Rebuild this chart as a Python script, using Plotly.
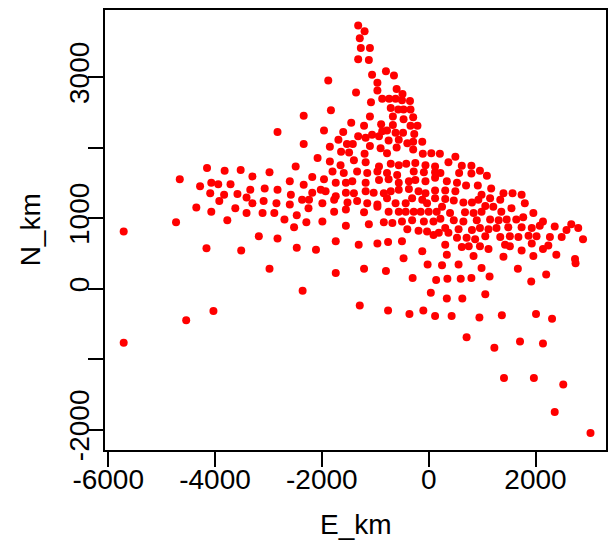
import plotly.graph_objects as go

E_km = [-2340,-2830,-2340,-4150,-4660,-3820,-3520,-3300,-2980,-2490,-2600,-2340,-4280,-4070,-3940,-3710,-4090,-3830,-3580,-3340,
-3070,-2830,-2580,-3410,-3920,-3300,-3090,-2850,-2600,-2370,-2250,-4350,-4070,-3620,-3410,-3110,-2890,-2470,-2700,-2290,
-2520,-3770,-4730,-5710,-3180,-2830,-4160,-3510,-2470,-2980,-2360,-4030,-4540,-5710,-1320,-1200,-1290,-1270,-1100,-1320,
-1120,-1880,-800,-1060,-650,-960,-1360,-960,-600,-490,-870,-740,-620,-500,-350,-1080,-710,-570,-470,-340,
-1830,-670,-1100,-290,-470,-890,-670,-1450,-1210,-340,-210,-1960,-1600,-780,-620,-870,-270,-480,-1690,-1320,
-1180,-1060,-930,-750,-560,-400,-290,-120,-1850,-1530,-1420,-1100,-900,-600,-290,-1640,-1490,-1200,-780,-110,
50,210,500,-2080,-1850,-1650,-1400,-1180,-930,-710,-560,-420,-250,-60,120,-1800,-1590,-1340,-1150,-960,
-780,-590,-280,-90,120,-2180,-1960,-1740,-1550,-1430,-1180,-930,-750,-560,-370,-250,-60,120,-2180,-2020,
-1930,-1740,-1550,-1400,-1180,-1030,-840,-710,-560,-370,-190,-60,120,-2240,-1990,-1770,-1520,-1340,-1150,-960,
-780,-620,-430,-310,-120,-30,120,-1770,-1550,-1210,-960,-750,-560,-430,-280,-150,0,150,-1990,-1550,
-1120,-840,-680,-500,-310,-90,90,-400,-190,-30,90,-1740,-1310,-960,-760,-500,370,620,800,960,
220,570,800,1090,340,530,700,920,1170,310,500,1400,1570,1740,990,1150,310,470,650,810,
930,1340,1800,250,1060,1210,1550,400,680,840,990,1360,1960,1770,220,470,650,900,1150,1310,
1460,1640,2140,310,560,810,960,1120,1270,1490,1740,1930,2080,2360,2580,2670,2800,190,370,530,
710,870,1060,1340,1520,1680,1870,2020,2270,2490,2890,310,620,750,960,1120,1430,1520,1740,1930,
2140,2240,340,840,1400,1960,2390,2740,-2110,-120,-470,-1740,-1210,-800,-20,250,560,990,1670,2750,
-300,140,350,600,800,1140,2200,1920,40,340,630,1060,-1290,-760,-360,-100,120,430,950,1370,
2010,2310,710,1230,1710,2140,1410,1970,2520,2360,3030]

N_km = [2450,2220,2050,1710,1550,1670,1680,1590,1650,1730,1520,1470,1450,1500,1480,1480,1350,1330,1340,1400,
1420,1400,1330,1290,1240,1210,1240,1210,1190,1260,1140,1150,1090,1140,1070,1070,1070,1040,980,940,
870,970,940,810,740,710,570,540,580,280,-30,-320,-450,-770,3730,3650,3550,3410,3410,3250,
3240,2950,3080,3030,3020,2920,2780,2810,2830,2760,2690,2690,2690,2670,2660,2640,2560,2540,2540,2540,
2530,2440,2440,2430,2400,2330,2320,2350,2310,2310,2310,2240,2220,2240,2210,2230,2190,2210,2110,2160,
2140,2180,2160,2100,2110,2060,2080,2080,2010,2050,2050,2020,1990,2000,1970,1940,1930,1910,1920,1910,
1920,1910,1870,1850,1800,1750,1820,1790,1730,1770,1750,1770,1780,1750,1730,1660,1640,1660,1640,1660,
1640,1610,1660,1650,1650,1580,1550,1500,1500,1520,1500,1540,1550,1500,1520,1540,1520,1570,1360,1400,
1380,1310,1360,1350,1380,1360,1350,1380,1400,1410,1380,1350,1390,1260,1210,1260,1220,1240,1210,1190,
1280,1210,1210,1280,1260,1210,1280,1090,1120,1080,1160,1090,1090,1090,1090,1090,1090,1090,950,890,
910,940,930,950,970,950,950,840,820,810,760,670,620,640,660,670,1790,1740,1740,1670,
1640,1640,1630,1600,1520,1500,1460,1460,1420,1390,1380,1350,1350,1330,1330,1280,1270,1250,1220,1220,
1260,1260,1210,1160,1170,1160,1140,1070,1080,1070,1090,1090,1070,1010,990,970,950,970,980,970,
980,980,950,860,840,830,860,840,860,870,870,860,890,880,830,910,860,790,790,720,
720,700,740,730,740,730,750,740,730,730,700,620,590,600,600,560,620,600,540,640,
560,610,480,460,450,460,480,420,550,530,430,220,280,250,340,330,340,290,280,360,
150,120,140,140,150,170,200,100,-60,-140,-140,-80,-240,-310,-360,-310,-390,-390,-410,-380,
-360,-430,-690,-840,-750,-780,-1270,-1270,-1360,-1750,-2050]

x_ticks = [-6000, -4000, -2000, 0, 2000]
y_ticks = [-2000, -1000, 0, 1000, 2000, 3000]
y_ticktext = ["-2000", "", "0", "1000", "", "3000"]

FONT = "Liberation Sans, Arial, sans-serif"

fig = go.Figure()
fig.add_trace(go.Scatter(
    x=E_km, y=N_km, mode="markers",
    marker=dict(color="#ff0000", size=8, line=dict(width=0)),
    hoverinfo="x+y", showlegend=False,
))

axis_common = dict(
    showline=True, linecolor="black", linewidth=2, mirror=True,
    ticks="outside", ticklen=15, tickwidth=2, tickcolor="black",
    showgrid=False, zeroline=False,
    tickfont=dict(family=FONT, size=28, color="black"),
)

fig.update_layout(
    width=610, height=541,
    margin=dict(l=105, r=2, t=10, b=91),
    paper_bgcolor="white", plot_bgcolor="white",
    xaxis=dict(range=[-6060, 3320], tickmode="array", tickvals=x_ticks,
               ticktext=[str(v) for v in x_ticks], ticklabelstandoff=-12,
               **axis_common),
    yaxis=dict(range=[-2290, 3950], tickmode="array", tickvals=y_ticks,
               ticktext=y_ticktext, tickangle=-90, ticklabelstandoff=-12,
               **axis_common),
    annotations=[
        dict(text="E_km", xref="paper", yref="paper", x=0.5, y=-0.17,
             xanchor="center", yanchor="middle", showarrow=False,
             font=dict(family=FONT, size=28, color="black")),
        dict(text="N_km", xref="paper", yref="paper", x=-0.149, y=0.5,
             xanchor="center", yanchor="middle", showarrow=False, textangle=-90,
             font=dict(family=FONT, size=28, color="black")),
    ],
)

fig.write_html("out.html")
